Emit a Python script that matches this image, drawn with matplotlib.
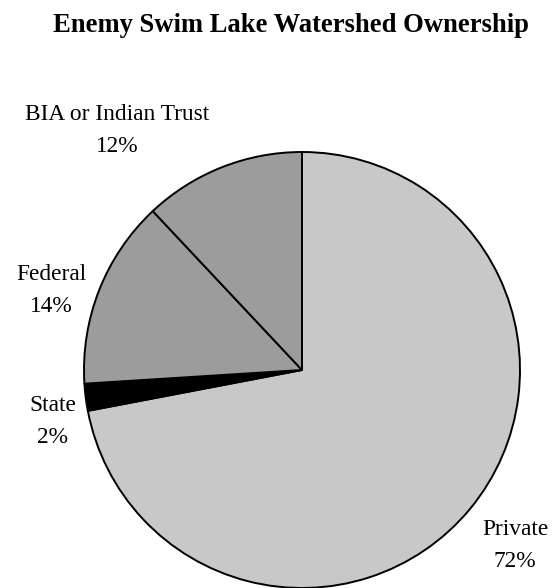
import matplotlib.pyplot as plt

# watershed ownership shares (percent)
owners = ['Private', 'State', 'Federal', 'BIA or Indian Trust']
shares = [72, 2, 14, 12]
colors = ['#c8c8c8', '#000000', '#9c9c9c', '#9c9c9c']

# label anchors in figure pixels: centre x, baseline of the percent line (from top)
label_xy = [(515, 567), (53, 443), (51, 312), (117, 152)]

plt.rcParams['font.family'] = ['Liberation Serif', 'DejaVu Serif']

W, H = 557, 588
fig = plt.figure(figsize=(W / 100, H / 100), dpi=100)

cx, cy, r = 302, 370, 218
ax = fig.add_axes([(cx - r) / W, (H - cy - r) / H, 2 * r / W, 2 * r / H])
ax.pie(shares, colors=colors, startangle=90, counterclock=False,
       wedgeprops=dict(edgecolor='black', linewidth=1.4))
ax.set_aspect('equal')
ax.set_xlim(-1.0, 1.0)
ax.set_ylim(-1.0, 1.0)

for name, val, (x, y) in zip(owners, shares, label_xy):
    fig.text(x / W, 1 - y / H, f'{name}\n{val:.0f}%', ha='center', va='baseline',
             fontsize=16.8, linespacing=1.7)

fig.text(291 / W, 1 - 32 / H, 'Enemy Swim Lake Watershed Ownership',
         ha='center', va='baseline', fontsize=19.2, fontweight='bold')

fig.savefig('out.png', dpi=100)
